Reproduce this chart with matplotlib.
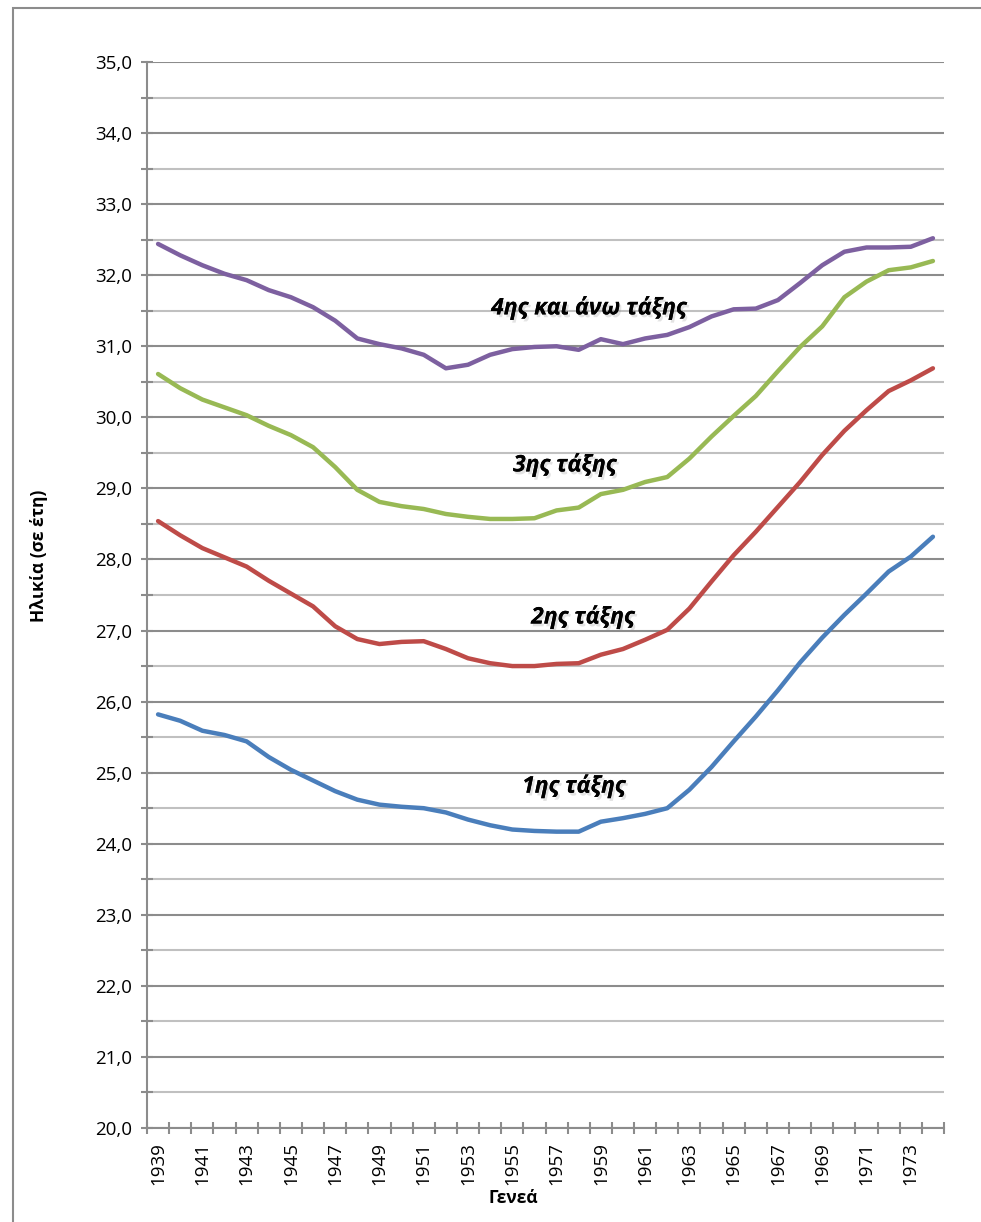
import matplotlib
matplotlib.use('Agg')
import matplotlib.pyplot as plt
import matplotlib.patheffects as pe
from matplotlib.patches import Rectangle
from matplotlib.ticker import MultipleLocator, FixedLocator, FuncFormatter

plt.rcParams['font.family'] = ['Open Sans', 'DejaVu Sans']

years = list(range(1939, 1975))

# Mean age of mother at birth, by birth order and generation
order_1 = [25.82, 25.73, 25.59, 25.53, 25.44, 25.22, 25.04, 24.89, 24.74, 24.62,
           24.55, 24.52, 24.50, 24.44, 24.34, 24.26, 24.20, 24.18, 24.17, 24.17,
           24.31, 24.36, 24.42, 24.50, 24.76, 25.08, 25.44, 25.79, 26.16, 26.55,
           26.90, 27.22, 27.52, 27.83, 28.04, 28.32]
order_2 = [28.54, 28.34, 28.16, 28.03, 27.90, 27.70, 27.52, 27.34, 27.06, 26.88,
           26.81, 26.84, 26.85, 26.74, 26.61, 26.54, 26.50, 26.50, 26.53, 26.54,
           26.66, 26.74, 26.87, 27.01, 27.31, 27.69, 28.06, 28.39, 28.74, 29.09,
           29.47, 29.81, 30.10, 30.37, 30.52, 30.69]
order_3 = [30.61, 30.41, 30.25, 30.14, 30.03, 29.88, 29.75, 29.58, 29.30, 28.98,
           28.81, 28.75, 28.71, 28.64, 28.60, 28.57, 28.57, 28.58, 28.69, 28.73,
           28.92, 28.98, 29.09, 29.16, 29.42, 29.73, 30.02, 30.30, 30.65, 30.99,
           31.28, 31.69, 31.91, 32.07, 32.11, 32.20]
order_4 = [32.44, 32.28, 32.14, 32.02, 31.93, 31.79, 31.69, 31.55, 31.36, 31.11,
           31.03, 30.97, 30.88, 30.69, 30.74, 30.88, 30.96, 30.99, 31.00, 30.95,
           31.10, 31.03, 31.11, 31.16, 31.27, 31.42, 31.52, 31.53, 31.65, 31.89,
           32.14, 32.33, 32.39, 32.39, 32.40, 32.52]

labels = ['1ης τάξης', '2ης τάξης', '3ης τάξης', '4ης και άνω τάξης']
colors = ['#4a7ebb', '#be4b48', '#98b954', '#7d60a0']
# label centres as (generation, age)
label_pos = [(1957.78, 24.81), (1958.19, 27.19), (1957.37, 29.33), (1958.46, 31.54)]

fig = plt.figure(figsize=(9.81, 12.22), dpi=100)
fig.patches.append(Rectangle((13 / 981, -0.1), 1.2, 1.1 - 8 / 1222,
                             transform=fig.transFigure, fill=False,
                             edgecolor='#8c8c8c', linewidth=1.5))

ax = fig.add_axes([147 / 981, 1 - 1128 / 1222, (944 - 147) / 981, (1128 - 62) / 1222])

x = list(range(len(years)))
for vals, color, label, (lx, ly) in zip([order_1, order_2, order_3, order_4],
                                        colors, labels, label_pos):
    ax.plot(x, vals, color=color, linewidth=3.2, solid_capstyle='round',
            solid_joinstyle='round', zorder=3)
    ax.text(lx - years[0], ly, label, fontsize=16.5,
            fontweight='bold', style='italic', ha='center', va='center',
            zorder=4,
            path_effects=[pe.withSimplePatchShadow(offset=(1.5, -2),
                                                   shadow_rgbFace='#909090',
                                                   alpha=0.25),
                          pe.Normal()])

ax.set_xlim(-0.5, len(years) - 0.5)
ax.set_ylim(20, 35)

# gridlines: darker at whole years, lighter at the halves
ax.yaxis.set_major_locator(MultipleLocator(1))
ax.yaxis.set_minor_locator(MultipleLocator(0.5))
ax.grid(axis='y', which='major', color='#8c8c8c', linewidth=1.5, zorder=1)
ax.grid(axis='y', which='minor', color='#c0c0c0', linewidth=1.5, zorder=1)
ax.yaxis.set_major_formatter(FuncFormatter(lambda v, p: f'{v:.1f}'.replace('.', ',')))

ax.xaxis.set_major_locator(FixedLocator(x[::2]))
ax.set_xticklabels([str(y) for y in years[::2]], rotation=90)
ax.xaxis.set_minor_locator(FixedLocator([i - 0.5 for i in range(len(years) + 1)]))

ax.tick_params(axis='x', which='major', length=0, pad=10, labelsize=13.5)
ax.tick_params(axis='x', which='minor', direction='inout', length=9,
               width=1.5, color='#8c8c8c')
ax.tick_params(axis='y', which='both', direction='inout', length=9, width=1.5,
               color='#8c8c8c', labelsize=13.5, pad=6)

for side in ['top', 'right']:
    ax.spines[side].set_visible(False)
for side in ['left', 'bottom']:
    ax.spines[side].set_color('#8c8c8c')
    ax.spines[side].set_linewidth(1.5)

ax.set_ylabel('Ηλικία (σε έτη)', fontsize=12.5, fontweight='bold')
ax.set_xlabel('Γενεά', fontsize=12.5, fontweight='bold')
ax.yaxis.set_label_coords(-0.124, 0.5366)
ax.xaxis.set_label_coords(0.46, -0.0575)

fig.savefig('out.png', dpi=100)
